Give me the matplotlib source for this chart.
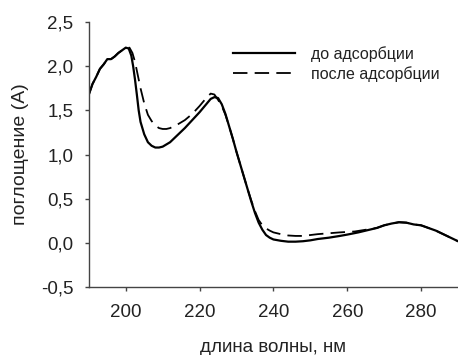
import matplotlib
matplotlib.use("Agg")
import matplotlib.pyplot as plt
from matplotlib.ticker import FuncFormatter

plt.rcParams["font.family"] = ["Liberation Sans", "DejaVu Sans"]

# before adsorption (solid)
wl_before = [190, 191, 192, 193, 194, 195, 196, 197, 198, 199, 200, 200.8, 201.5, 202, 202.5,
             203, 203.5, 204, 205, 206, 207, 208, 209, 210, 212, 214, 216, 218, 220, 222,
             223, 224, 225, 226, 227, 228, 229, 230, 231, 232, 233, 234, 235, 236, 237, 238,
             239, 240, 242, 244, 246, 248, 250, 252, 255, 258, 260, 263, 266, 268, 270, 272,
             274, 276, 278, 280, 282, 284, 286, 288, 290]
abs_before = [1.68, 1.80, 1.88, 1.97, 2.02, 2.08, 2.08, 2.11, 2.15, 2.18, 2.21, 2.20, 2.12, 2.00, 1.85,
              1.68, 1.50, 1.37, 1.23, 1.14, 1.10, 1.08, 1.08, 1.09, 1.14, 1.22, 1.30, 1.39, 1.48, 1.58,
              1.63, 1.65, 1.64, 1.57, 1.46, 1.32, 1.18, 1.03, 0.89, 0.75, 0.61, 0.47, 0.34, 0.23, 0.15, 0.09,
              0.06, 0.04, 0.025, 0.015, 0.015, 0.02, 0.03, 0.045, 0.06, 0.08, 0.095, 0.12, 0.15, 0.17, 0.20, 0.22,
              0.235, 0.23, 0.21, 0.20, 0.17, 0.14, 0.10, 0.06, 0.02]

# after adsorption (dashed)
wl_after = [190, 191, 192, 193, 194, 195, 196, 197, 198, 199, 200, 201, 201.8, 202.5, 203,
            204, 205, 206, 207, 208, 209, 210, 211, 212, 214, 216, 218, 220, 222, 223,
            224, 225, 226, 227, 228, 229, 230, 231, 232, 233, 234, 235, 236, 237, 238, 239,
            240, 242, 244, 246, 248, 250, 252, 255, 258, 262, 265, 268, 270, 272, 274, 276,
            278, 280, 282, 284, 286, 288, 290]
abs_after = [1.68, 1.80, 1.88, 1.97, 2.02, 2.08, 2.08, 2.11, 2.15, 2.18, 2.20, 2.21, 2.15, 2.05, 1.95,
             1.75, 1.58, 1.45, 1.38, 1.33, 1.30, 1.29, 1.29, 1.30, 1.34, 1.39, 1.46, 1.55, 1.65, 1.69,
             1.68, 1.62, 1.55, 1.45, 1.32, 1.18, 1.03, 0.89, 0.75, 0.61, 0.48, 0.36, 0.26, 0.20, 0.165, 0.14,
             0.12, 0.10, 0.085, 0.08, 0.08, 0.09, 0.10, 0.11, 0.12, 0.13, 0.15, 0.17, 0.20, 0.22, 0.235, 0.23,
             0.21, 0.20, 0.17, 0.14, 0.10, 0.06, 0.02]

x_ticks = [200, 220, 240, 260, 280]
y_ticks = [-0.5, 0.0, 0.5, 1.0, 1.5, 2.0, 2.5]

fig = plt.figure(figsize=(4.58, 3.55), dpi=100)
ax = fig.add_axes([0.194, 0.191, 0.806, 0.747])

ax.plot(wl_before, abs_before, color="black", lw=1.6, label="до адсорбции")
ax.plot(wl_after, abs_after, color="black", lw=1.3, dashes=(8, 4), label="после адсорбции")

ax.set_xlim(190, 290)
ax.set_ylim(-0.5, 2.5)
ax.set_xticks(x_ticks)
ax.set_yticks(y_ticks)
ax.yaxis.set_major_formatter(FuncFormatter(lambda v, p: f"{v:.1f}".replace(".", ",")))

for s in ["top", "right"]:
    ax.spines[s].set_visible(False)
for s in ["left", "bottom"]:
    ax.spines[s].set_color("#444444")
    ax.spines[s].set_linewidth(1.0)
ax.tick_params(direction="out", length=3, width=1, color="#444444", labelsize=13.5, labelcolor="#222222")
ax.tick_params(axis="y", pad=8)
ax.tick_params(axis="x", pad=9)

ax.set_xlabel("длина волны, нм", fontsize=13.5, color="#222222", labelpad=13)
ax.set_ylabel("поглощение (A)", fontsize=14, color="#222222", labelpad=9)

ax.legend(loc="upper left", bbox_to_anchor=(233 / 458, 1 - 46 / 355), bbox_transform=fig.transFigure,
          frameon=False, fontsize=11.5, handlelength=3.9, handletextpad=1.0, labelspacing=0.25,
          borderpad=0, borderaxespad=0, labelcolor="#222222")

fig.savefig("out.png", dpi=100)
